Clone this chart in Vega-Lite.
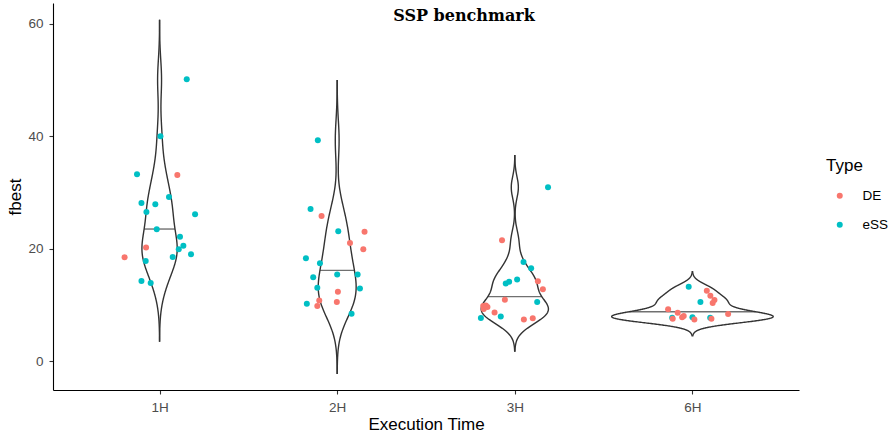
{
  "$schema": "https://vega.github.io/schema/vega-lite/v6.json",
  "width": 746,
  "height": 387,
  "autosize": "none",
  "padding": {"left": 53, "top": 3, "right": 90, "bottom": 48},
  "background": "white",
  "config": {
    "view": {"stroke": null},
    "font": "Liberation Sans",
    "axis": {"grid": false, "domainColor": "black", "domainWidth": 1.1, "tickColor": "#333333", "tickWidth": 1.1, "tickSize": 4, "labelFont": "Liberation Sans", "labelFontSize": 13.5, "labelColor": "#4D4D4D", "titleFont": "Liberation Sans", "titleFontSize": 17, "titleColor": "black", "titleFontWeight": "normal"},
    "axisX": {"labelPadding": 6, "titlePadding": 3, "labelAngle": 0},
    "axisY": {"labelPadding": 6, "titlePadding": 3}
  },
  "title": {"text": "SSP benchmark", "font": "DejaVu Serif", "fontSize": 16, "fontWeight": "bold", "anchor": "middle", "frame": "group", "dx": 38, "dy": 16, "offset": -17.5, "baseline": "alphabetic", "color": "black"},
  "datasets": {
    "pts": [
      {"time": "1H", "type": "eSS", "fbest": 50.15, "jitter": 0.153},
      {"time": "1H", "type": "eSS", "fbest": 40.0, "jitter": 0.005},
      {"time": "1H", "type": "eSS", "fbest": 33.24, "jitter": -0.127},
      {"time": "1H", "type": "DE", "fbest": 33.1, "jitter": 0.1},
      {"time": "1H", "type": "eSS", "fbest": 29.2, "jitter": 0.053},
      {"time": "1H", "type": "eSS", "fbest": 28.1, "jitter": -0.102},
      {"time": "1H", "type": "eSS", "fbest": 27.9, "jitter": -0.024},
      {"time": "1H", "type": "eSS", "fbest": 26.5, "jitter": -0.074},
      {"time": "1H", "type": "eSS", "fbest": 26.1, "jitter": 0.2},
      {"time": "1H", "type": "eSS", "fbest": 23.45, "jitter": -0.016},
      {"time": "1H", "type": "eSS", "fbest": 22.1, "jitter": 0.115},
      {"time": "1H", "type": "DE", "fbest": 20.2, "jitter": -0.076},
      {"time": "1H", "type": "eSS", "fbest": 20.5, "jitter": 0.134},
      {"time": "1H", "type": "eSS", "fbest": 19.9, "jitter": 0.108},
      {"time": "1H", "type": "eSS", "fbest": 19.0, "jitter": 0.177},
      {"time": "1H", "type": "DE", "fbest": 18.45, "jitter": -0.197},
      {"time": "1H", "type": "eSS", "fbest": 18.5, "jitter": 0.074},
      {"time": "1H", "type": "eSS", "fbest": 17.8, "jitter": -0.078},
      {"time": "1H", "type": "eSS", "fbest": 14.25, "jitter": -0.102},
      {"time": "1H", "type": "eSS", "fbest": 13.9, "jitter": -0.05},
      {"time": "2H", "type": "eSS", "fbest": 39.3, "jitter": -0.109},
      {"time": "2H", "type": "eSS", "fbest": 27.06, "jitter": -0.15},
      {"time": "2H", "type": "DE", "fbest": 25.8, "jitter": -0.088},
      {"time": "2H", "type": "eSS", "fbest": 23.1, "jitter": 0.006},
      {"time": "2H", "type": "DE", "fbest": 23.0, "jitter": 0.154},
      {"time": "2H", "type": "DE", "fbest": 21.0, "jitter": 0.072},
      {"time": "2H", "type": "DE", "fbest": 19.9, "jitter": 0.147},
      {"time": "2H", "type": "eSS", "fbest": 18.3, "jitter": -0.176},
      {"time": "2H", "type": "eSS", "fbest": 17.4, "jitter": -0.097},
      {"time": "2H", "type": "eSS", "fbest": 14.9, "jitter": -0.135},
      {"time": "2H", "type": "eSS", "fbest": 15.4, "jitter": 0.0},
      {"time": "2H", "type": "eSS", "fbest": 15.4, "jitter": 0.115},
      {"time": "2H", "type": "eSS", "fbest": 13.05, "jitter": -0.112},
      {"time": "2H", "type": "eSS", "fbest": 12.9, "jitter": 0.128},
      {"time": "2H", "type": "DE", "fbest": 12.3, "jitter": 0.004},
      {"time": "2H", "type": "DE", "fbest": 10.75, "jitter": -0.101},
      {"time": "2H", "type": "DE", "fbest": 9.8, "jitter": -0.112},
      {"time": "2H", "type": "DE", "fbest": 10.5, "jitter": -0.002},
      {"time": "2H", "type": "eSS", "fbest": 10.2, "jitter": -0.171},
      {"time": "2H", "type": "eSS", "fbest": 8.4, "jitter": 0.081},
      {"time": "3H", "type": "eSS", "fbest": 30.9, "jitter": 0.187},
      {"time": "3H", "type": "DE", "fbest": 21.5, "jitter": -0.072},
      {"time": "3H", "type": "eSS", "fbest": 17.6, "jitter": 0.049},
      {"time": "3H", "type": "eSS", "fbest": 16.5, "jitter": 0.092},
      {"time": "3H", "type": "eSS", "fbest": 14.5, "jitter": 0.013},
      {"time": "3H", "type": "eSS", "fbest": 14.1, "jitter": -0.032},
      {"time": "3H", "type": "eSS", "fbest": 13.8, "jitter": -0.051},
      {"time": "3H", "type": "DE", "fbest": 14.2, "jitter": 0.13},
      {"time": "3H", "type": "DE", "fbest": 12.75, "jitter": 0.158},
      {"time": "3H", "type": "DE", "fbest": 10.9, "jitter": -0.056},
      {"time": "3H", "type": "eSS", "fbest": 10.5, "jitter": 0.126},
      {"time": "3H", "type": "DE", "fbest": 9.8, "jitter": -0.178},
      {"time": "3H", "type": "DE", "fbest": 9.6, "jitter": -0.154},
      {"time": "3H", "type": "DE", "fbest": 9.25, "jitter": -0.175},
      {"time": "3H", "type": "DE", "fbest": 9.88, "jitter": -0.163},
      {"time": "3H", "type": "DE", "fbest": 8.65, "jitter": -0.114},
      {"time": "3H", "type": "eSS", "fbest": 7.65, "jitter": -0.191},
      {"time": "3H", "type": "eSS", "fbest": 7.9, "jitter": -0.079},
      {"time": "3H", "type": "DE", "fbest": 7.4, "jitter": 0.051},
      {"time": "3H", "type": "DE", "fbest": 7.6, "jitter": 0.101},
      {"time": "6H", "type": "eSS", "fbest": 13.2, "jitter": -0.021},
      {"time": "6H", "type": "DE", "fbest": 12.5, "jitter": 0.081},
      {"time": "6H", "type": "DE", "fbest": 11.6, "jitter": 0.101},
      {"time": "6H", "type": "DE", "fbest": 10.85, "jitter": 0.124},
      {"time": "6H", "type": "DE", "fbest": 10.3, "jitter": 0.114},
      {"time": "6H", "type": "eSS", "fbest": 10.5, "jitter": 0.045},
      {"time": "6H", "type": "DE", "fbest": 8.37, "jitter": 0.201},
      {"time": "6H", "type": "DE", "fbest": 9.2, "jitter": -0.137},
      {"time": "6H", "type": "DE", "fbest": 8.6, "jitter": -0.083},
      {"time": "6H", "type": "DE", "fbest": 7.8, "jitter": -0.058},
      {"time": "6H", "type": "eSS", "fbest": 7.7, "jitter": -0.114},
      {"time": "6H", "type": "DE", "fbest": 7.5, "jitter": -0.111},
      {"time": "6H", "type": "eSS", "fbest": 7.8, "jitter": 0.0},
      {"time": "6H", "type": "DE", "fbest": 7.4, "jitter": 0.011},
      {"time": "6H", "type": "eSS", "fbest": 7.7, "jitter": 0.1},
      {"time": "6H", "type": "DE", "fbest": 7.5, "jitter": 0.107},
      {"time": "6H", "type": "DE", "fbest": 8.0, "jitter": -0.049}
    ]
  },
  "data": {"name": "pts"},
  "resolve": {"scale": {"xOffset": "independent"}},
  "layer": [
    {
      "transform": [
        {"filter": "datum.time === '1H'"},
        {"density": "fbest", "groupby": ["time"], "bandwidth": 3.5, "extent": [3.44, 60.7], "steps": 400}
      ],
      "resolve": {"scale": {"xOffset": "independent"}},
      "layer": [
        {"mark": {"type": "line", "color": "#333333", "strokeWidth": 1.4},
         "encoding": {
           "x": {"field": "time", "type": "nominal", "title": "Execution Time", "scale": {"type": "point", "padding": 0.6, "domain": ["1H", "2H", "3H", "6H"]}},
           "y": {"field": "value", "type": "quantitative", "title": "fbest", "scale": {"domain": [-5.16, 63.7], "nice": false, "zero": false}, "axis": {"values": [0, 20, 40, 60]}},
           "xOffset": {"field": "density", "type": "quantitative", "scale": {"domain": [0, 0.235], "range": [0, 80], "nice": false, "zero": false}},
           "order": {"field": "value", "type": "quantitative"}}},
        {"mark": {"type": "line", "color": "#333333", "strokeWidth": 1.4},
         "encoding": {
           "x": {"field": "time", "type": "nominal", "title": "Execution Time", "scale": {"type": "point", "padding": 0.6, "domain": ["1H", "2H", "3H", "6H"]}},
           "y": {"field": "value", "type": "quantitative", "title": "fbest", "scale": {"domain": [-5.16, 63.7], "nice": false, "zero": false}, "axis": {"values": [0, 20, 40, 60]}},
           "xOffset": {"field": "density", "type": "quantitative", "scale": {"domain": [0, 0.235], "range": [0, -80], "nice": false, "zero": false}},
           "order": {"field": "value", "type": "quantitative"}}},
        {"transform": [
           {"window": [{"op": "sum", "field": "density", "as": "cum"}], "sort": [{"field": "value", "order": "ascending"}], "frame": [null, 0]},
           {"joinaggregate": [{"op": "sum", "field": "density", "as": "total"}]},
           {"filter": "datum.cum >= datum.total / 2"},
           {"window": [{"op": "row_number", "as": "rn"}], "sort": [{"field": "value", "order": "ascending"}]},
           {"filter": "datum.rn === 1"}
         ],
         "mark": {"type": "tick", "orient": "horizontal", "color": "#333333", "thickness": 1.4},
         "encoding": {
           "x": {"field": "time", "type": "nominal", "title": "Execution Time", "scale": {"type": "point", "padding": 0.6, "domain": ["1H", "2H", "3H", "6H"]}},
           "y": {"field": "value", "type": "quantitative", "title": "fbest", "scale": {"domain": [-5.16, 63.7], "nice": false, "zero": false}, "axis": {"values": [0, 20, 40, 60]}},
           "size": {"field": "density", "type": "quantitative", "scale": {"domain": [0, 0.235], "range": [0, 160], "nice": false, "zero": false}, "legend": null}}}
      ]
    },
    {
      "transform": [
        {"filter": "datum.time === '2H'"},
        {"density": "fbest", "groupby": ["time"], "bandwidth": 3.57, "extent": [-2.31, 50.0], "steps": 400}
      ],
      "resolve": {"scale": {"xOffset": "independent"}},
      "layer": [
        {"mark": {"type": "line", "color": "#333333", "strokeWidth": 1.4},
         "encoding": {
           "x": {"field": "time", "type": "nominal", "title": "Execution Time", "scale": {"type": "point", "padding": 0.6, "domain": ["1H", "2H", "3H", "6H"]}},
           "y": {"field": "value", "type": "quantitative", "title": "fbest", "scale": {"domain": [-5.16, 63.7], "nice": false, "zero": false}, "axis": {"values": [0, 20, 40, 60]}},
           "xOffset": {"field": "density", "type": "quantitative", "scale": {"domain": [0, 0.235], "range": [0, 80], "nice": false, "zero": false}},
           "order": {"field": "value", "type": "quantitative"}}},
        {"mark": {"type": "line", "color": "#333333", "strokeWidth": 1.4},
         "encoding": {
           "x": {"field": "time", "type": "nominal", "title": "Execution Time", "scale": {"type": "point", "padding": 0.6, "domain": ["1H", "2H", "3H", "6H"]}},
           "y": {"field": "value", "type": "quantitative", "title": "fbest", "scale": {"domain": [-5.16, 63.7], "nice": false, "zero": false}, "axis": {"values": [0, 20, 40, 60]}},
           "xOffset": {"field": "density", "type": "quantitative", "scale": {"domain": [0, 0.235], "range": [0, -80], "nice": false, "zero": false}},
           "order": {"field": "value", "type": "quantitative"}}},
        {"transform": [
           {"window": [{"op": "sum", "field": "density", "as": "cum"}], "sort": [{"field": "value", "order": "ascending"}], "frame": [null, 0]},
           {"joinaggregate": [{"op": "sum", "field": "density", "as": "total"}]},
           {"filter": "datum.cum >= datum.total / 2"},
           {"window": [{"op": "row_number", "as": "rn"}], "sort": [{"field": "value", "order": "ascending"}]},
           {"filter": "datum.rn === 1"}
         ],
         "mark": {"type": "tick", "orient": "horizontal", "color": "#333333", "thickness": 1.4},
         "encoding": {
           "x": {"field": "time", "type": "nominal", "title": "Execution Time", "scale": {"type": "point", "padding": 0.6, "domain": ["1H", "2H", "3H", "6H"]}},
           "y": {"field": "value", "type": "quantitative", "title": "fbest", "scale": {"domain": [-5.16, 63.7], "nice": false, "zero": false}, "axis": {"values": [0, 20, 40, 60]}},
           "size": {"field": "density", "type": "quantitative", "scale": {"domain": [0, 0.235], "range": [0, 160], "nice": false, "zero": false}, "legend": null}}}
      ]
    },
    {
      "transform": [
        {"filter": "datum.time === '3H'"},
        {"density": "fbest", "groupby": ["time"], "bandwidth": 1.92, "extent": [1.66, 36.67], "steps": 400}
      ],
      "resolve": {"scale": {"xOffset": "independent"}},
      "layer": [
        {"mark": {"type": "line", "color": "#333333", "strokeWidth": 1.4},
         "encoding": {
           "x": {"field": "time", "type": "nominal", "title": "Execution Time", "scale": {"type": "point", "padding": 0.6, "domain": ["1H", "2H", "3H", "6H"]}},
           "y": {"field": "value", "type": "quantitative", "title": "fbest", "scale": {"domain": [-5.16, 63.7], "nice": false, "zero": false}, "axis": {"values": [0, 20, 40, 60]}},
           "xOffset": {"field": "density", "type": "quantitative", "scale": {"domain": [0, 0.235], "range": [0, 80], "nice": false, "zero": false}},
           "order": {"field": "value", "type": "quantitative"}}},
        {"mark": {"type": "line", "color": "#333333", "strokeWidth": 1.4},
         "encoding": {
           "x": {"field": "time", "type": "nominal", "title": "Execution Time", "scale": {"type": "point", "padding": 0.6, "domain": ["1H", "2H", "3H", "6H"]}},
           "y": {"field": "value", "type": "quantitative", "title": "fbest", "scale": {"domain": [-5.16, 63.7], "nice": false, "zero": false}, "axis": {"values": [0, 20, 40, 60]}},
           "xOffset": {"field": "density", "type": "quantitative", "scale": {"domain": [0, 0.235], "range": [0, -80], "nice": false, "zero": false}},
           "order": {"field": "value", "type": "quantitative"}}},
        {"transform": [
           {"window": [{"op": "sum", "field": "density", "as": "cum"}], "sort": [{"field": "value", "order": "ascending"}], "frame": [null, 0]},
           {"joinaggregate": [{"op": "sum", "field": "density", "as": "total"}]},
           {"filter": "datum.cum >= datum.total / 2"},
           {"window": [{"op": "row_number", "as": "rn"}], "sort": [{"field": "value", "order": "ascending"}]},
           {"filter": "datum.rn === 1"}
         ],
         "mark": {"type": "tick", "orient": "horizontal", "color": "#333333", "thickness": 1.4},
         "encoding": {
           "x": {"field": "time", "type": "nominal", "title": "Execution Time", "scale": {"type": "point", "padding": 0.6, "domain": ["1H", "2H", "3H", "6H"]}},
           "y": {"field": "value", "type": "quantitative", "title": "fbest", "scale": {"domain": [-5.16, 63.7], "nice": false, "zero": false}, "axis": {"values": [0, 20, 40, 60]}},
           "size": {"field": "density", "type": "quantitative", "scale": {"domain": [0, 0.235], "range": [0, 160], "nice": false, "zero": false}, "legend": null}}}
      ]
    },
    {
      "transform": [
        {"filter": "datum.time === '6H'"},
        {"density": "fbest", "groupby": ["time"], "bandwidth": 0.97, "extent": [4.4, 16.0], "steps": 400}
      ],
      "resolve": {"scale": {"xOffset": "independent"}},
      "layer": [
        {"mark": {"type": "line", "color": "#333333", "strokeWidth": 1.4},
         "encoding": {
           "x": {"field": "time", "type": "nominal", "title": "Execution Time", "scale": {"type": "point", "padding": 0.6, "domain": ["1H", "2H", "3H", "6H"]}},
           "y": {"field": "value", "type": "quantitative", "title": "fbest", "scale": {"domain": [-5.16, 63.7], "nice": false, "zero": false}, "axis": {"values": [0, 20, 40, 60]}},
           "xOffset": {"field": "density", "type": "quantitative", "scale": {"domain": [0, 0.235], "range": [0, 80], "nice": false, "zero": false}},
           "order": {"field": "value", "type": "quantitative"}}},
        {"mark": {"type": "line", "color": "#333333", "strokeWidth": 1.4},
         "encoding": {
           "x": {"field": "time", "type": "nominal", "title": "Execution Time", "scale": {"type": "point", "padding": 0.6, "domain": ["1H", "2H", "3H", "6H"]}},
           "y": {"field": "value", "type": "quantitative", "title": "fbest", "scale": {"domain": [-5.16, 63.7], "nice": false, "zero": false}, "axis": {"values": [0, 20, 40, 60]}},
           "xOffset": {"field": "density", "type": "quantitative", "scale": {"domain": [0, 0.235], "range": [0, -80], "nice": false, "zero": false}},
           "order": {"field": "value", "type": "quantitative"}}},
        {"transform": [
           {"window": [{"op": "sum", "field": "density", "as": "cum"}], "sort": [{"field": "value", "order": "ascending"}], "frame": [null, 0]},
           {"joinaggregate": [{"op": "sum", "field": "density", "as": "total"}]},
           {"filter": "datum.cum >= datum.total / 2"},
           {"window": [{"op": "row_number", "as": "rn"}], "sort": [{"field": "value", "order": "ascending"}]},
           {"filter": "datum.rn === 1"}
         ],
         "mark": {"type": "tick", "orient": "horizontal", "color": "#333333", "thickness": 1.4},
         "encoding": {
           "x": {"field": "time", "type": "nominal", "title": "Execution Time", "scale": {"type": "point", "padding": 0.6, "domain": ["1H", "2H", "3H", "6H"]}},
           "y": {"field": "value", "type": "quantitative", "title": "fbest", "scale": {"domain": [-5.16, 63.7], "nice": false, "zero": false}, "axis": {"values": [0, 20, 40, 60]}},
           "size": {"field": "density", "type": "quantitative", "scale": {"domain": [0, 0.235], "range": [0, 160], "nice": false, "zero": false}, "legend": null}}}
      ]
    },
    {
      "mark": {"type": "circle", "size": 36, "opacity": 1},
      "encoding": {
        "x": {"field": "time", "type": "nominal", "title": "Execution Time", "scale": {"type": "point", "padding": 0.6, "domain": ["1H", "2H", "3H", "6H"]}},
        "y": {"field": "fbest", "type": "quantitative", "title": "fbest", "scale": {"domain": [-5.16, 63.7], "nice": false, "zero": false}, "axis": {"values": [0, 20, 40, 60]}},
        "xOffset": {"field": "jitter", "type": "quantitative", "scale": {"domain": [-1, 1], "range": [-177.6, 177.6], "nice": false, "zero": false}},
        "color": {"field": "type", "type": "nominal", "title": "Type",
          "scale": {"domain": ["DE", "eSS"], "range": ["#F8766D", "#00BFC4"]},
          "legend": {"orient": "none", "legendX": 773, "legendY": 155, "titleFont": "Liberation Sans", "titleFontSize": 17, "titleFontWeight": "normal", "titleColor": "black", "labelFont": "Liberation Sans", "labelFontSize": 13.5, "labelColor": "black", "symbolType": "circle", "symbolSize": 36, "symbolOffset": 7, "symbolStrokeWidth": 0, "rowPadding": 14, "titlePadding": 14, "labelOffset": 16, "labelLimit": 200}}
      }
    }
  ]
}
